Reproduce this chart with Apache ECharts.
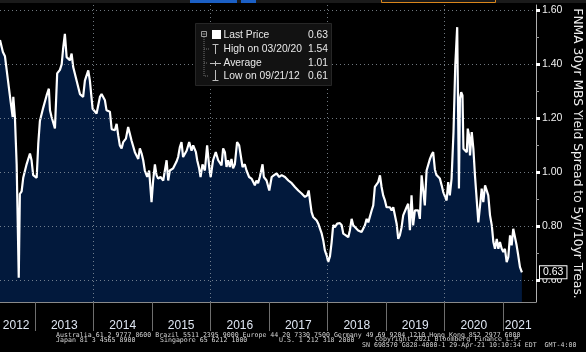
<!DOCTYPE html>
<html><head><meta charset="utf-8">
<script src="https://cdn.jsdelivr.net/npm/echarts@6/dist/echarts.min.js"></script>
<style>html,body{margin:0;padding:0;background:#000;}#c{width:586px;height:352px;}</style>
</head><body><div id="c"></div>
<script>
const dates = [
'2012-05-27','2012-06-14','2012-06-27','2012-07-16','2012-08-03','2012-08-14','2012-08-18','2012-08-28','2012-09-08','2012-09-21',
'2012-09-28','2012-10-09','2012-10-19','2012-11-09','2012-11-30','2012-12-10','2012-12-20','2013-01-11','2013-01-21','2013-01-31',
'2013-02-21','2013-03-14','2013-03-28','2013-04-04','2013-04-14','2013-05-05','2013-05-19','2013-06-05','2013-06-16','2013-06-26',
'2013-07-06','2013-07-17','2013-08-06','2013-08-17','2013-08-27','2013-09-17','2013-10-08','2013-10-28','2013-11-08','2013-11-29',
'2013-12-09','2013-12-26','2014-01-20','2014-02-10','2014-02-20','2014-03-13','2014-03-23','2014-04-13','2014-04-24','2014-05-04',
'2014-05-14','2014-05-25','2014-06-04','2014-06-14','2014-06-25','2014-07-05','2014-07-22','2014-08-05','2014-08-26','2014-09-16',
'2014-10-07','2014-10-17','2014-10-28','2014-11-07','2014-11-17','2014-12-02','2014-12-14','2014-12-29','2015-01-08','2015-01-19',
'2015-01-29','2015-02-08','2015-02-23','2015-03-12','2015-04-02','2015-04-12','2015-04-22','2015-05-13','2015-06-03','2015-06-13',
'2015-06-24','2015-07-04','2015-07-14','2015-08-05','2015-08-21','2015-09-05','2015-09-15','2015-10-02','2015-10-10','2015-10-22',
'2015-10-31','2015-11-12','2015-11-27','2015-12-11','2015-12-24','2016-01-02','2016-01-17','2016-02-03','2016-02-18','2016-02-28',
'2016-03-10','2016-03-20','2016-03-31','2016-04-10','2016-04-20','2016-05-01','2016-05-11','2016-05-21','2016-06-01','2016-06-15',
'2016-06-28','2016-07-06','2016-07-19','2016-08-02','2016-08-13','2016-08-29','2016-09-13','2016-09-23','2016-10-04','2016-10-14',
'2016-10-24','2016-11-04','2016-11-21','2016-11-29','2016-12-16','2017-01-02','2017-01-17','2017-02-01','2017-02-17','2017-03-05',
'2017-03-20','2017-04-10','2017-04-20','2017-05-01','2017-05-22','2017-06-11','2017-07-02','2017-07-23','2017-08-13','2017-08-27',
'2017-09-05','2017-09-13','2017-09-23','2017-10-03','2017-10-25','2017-11-04','2017-11-14','2017-11-25','2017-12-05','2017-12-15',
'2017-12-26','2018-01-05','2018-01-16','2018-01-26','2018-02-05','2018-02-16','2018-03-02','2018-03-19','2018-03-30','2018-04-09',
'2018-04-25','2018-05-10','2018-05-20','2018-05-31','2018-06-10','2018-06-21','2018-07-11','2018-08-01','2018-08-22','2018-09-02',
'2018-09-12','2018-09-22','2018-10-03','2018-10-13','2018-10-23','2018-11-03','2018-11-13','2018-11-24','2018-12-04','2018-12-14',
'2018-12-25','2019-01-04','2019-01-14','2019-01-25','2019-02-05','2019-02-15','2019-02-25','2019-03-08','2019-03-18','2019-03-28',
'2019-04-08','2019-04-18','2019-04-29','2019-05-09','2019-05-19','2019-05-30','2019-06-09','2019-06-19','2019-06-30','2019-07-11',
'2019-07-21','2019-07-31','2019-08-11','2019-08-21','2019-08-31','2019-09-11','2019-09-21','2019-10-02','2019-10-12','2019-10-22',
'2019-11-02','2019-11-12','2019-11-22','2019-12-03','2019-12-14','2019-12-24','2020-01-03','2020-01-14','2020-01-24','2020-02-03',
'2020-02-14','2020-02-26','2020-03-08','2020-03-20','2020-03-25','2020-03-31','2020-04-06','2020-04-14','2020-04-22','2020-04-28',
'2020-05-08','2020-05-19','2020-05-25','2020-06-02','2020-06-08','2020-06-19','2020-06-29','2020-07-09','2020-07-20','2020-07-30',
'2020-08-10','2020-08-20','2020-08-30','2020-09-10','2020-09-20','2020-09-30','2020-10-11','2020-10-22','2020-11-01','2020-11-11',
'2020-11-22','2020-12-02','2020-12-12','2020-12-23','2021-01-02','2021-01-12','2021-01-23','2021-02-02','2021-02-13','2021-02-23',
'2021-03-05','2021-03-16','2021-03-26','2021-04-05','2021-04-16','2021-04-28'
];
const values = [
1.49,1.446,1.43,1.34,1.255,1.205,1.28,1.205,1.03,0.61,
0.92,0.93,0.98,1.03,1.07,1.045,0.99,0.98,1.107,1.19,
1.24,1.285,1.31,1.23,1.205,1.163,1.367,1.38,1.40,1.464,
1.513,1.427,1.415,1.44,1.39,1.34,1.29,1.28,1.34,1.378,
1.34,1.236,1.218,1.28,1.29,1.267,1.23,1.225,1.16,1.165,
1.156,1.18,1.137,1.10,1.089,1.112,1.125,1.168,1.118,1.075,
1.05,1.089,1.07,1.045,1.007,0.983,1.007,0.89,0.97,1.03,
0.99,0.977,0.983,0.97,1.045,0.97,1.007,1.015,1.04,1.057,
1.094,1.112,1.057,1.08,1.112,1.08,1.10,1.075,1.045,1.015,
0.983,1.03,1.007,1.10,1.02,0.983,1.045,1.075,1.045,1.045,
1.026,1.089,1.075,1.02,1.045,1.02,1.05,1.015,1.03,1.112,
1.10,1.094,1.02,1.03,1.007,0.983,0.977,0.97,0.952,0.97,
0.96,0.983,1.03,0.983,0.97,0.933,0.983,0.99,0.996,0.983,
0.99,0.983,0.99,0.97,0.96,0.946,0.933,0.922,0.909,0.915,
0.933,0.896,0.853,0.835,0.822,0.81,0.793,0.774,0.748,0.711,
0.693,0.668,0.69,0.74,0.805,0.797,0.81,0.812,0.804,0.773,
0.767,0.76,0.785,0.828,0.804,0.797,0.785,0.779,0.804,0.828,
0.815,0.81,0.859,0.878,0.946,0.952,0.964,0.989,0.946,0.915,
0.896,0.871,0.865,0.871,0.859,0.871,0.874,0.81,0.754,0.767,
0.797,0.841,0.841,0.871,0.884,0.786,0.915,0.804,0.859,0.865,
0.859,0.828,0.989,0.983,0.878,1.007,1.013,1.05,1.065,1.075,
1.01,0.99,0.985,0.977,0.952,0.927,0.921,0.896,0.964,0.915,
0.977,1.149,1.396,1.538,1.273,0.94,1.273,1.297,1.285,1.088,
1.088,1.075,1.162,1.137,1.063,1.149,1.088,0.989,0.983,0.815,
0.878,0.94,0.89,0.952,0.952,0.915,0.841,0.804,0.742,0.717,
0.754,0.717,0.742,0.717,0.705,0.717,0.668,0.686,0.767,0.73,
0.791,0.797,0.73,0.693,0.649,0.63
];
const yTickValues = [0.6, 0.8, 1.0, 1.2, 1.4, 1.6];
const yMinorTickValues = [0.7, 0.9, 1.1, 1.3, 1.5];
const yearLabels = ['2012','2013','2014','2015','2016','2017','2018','2019','2020','2021'];
const yearLabelDates = ['2012-09-05','2013-07-02','2014-07-02','2015-07-02','2016-07-02','2017-07-02','2018-07-02','2019-07-02','2020-07-02','2021-04-05'];
const yearStarts = ['2013-01-01','2014-01-01','2015-01-01','2016-01-01','2017-01-01','2018-01-01','2019-01-01','2020-01-01','2021-01-01'];
const gridYears = ['2014-01-01','2016-01-01','2018-01-01','2020-01-01'];
const xRange = ['2012-05-27', '2021-07-25'];
const yRange = [0.52, 1.62];
const legendNames = ['Last Price', 'High on 03/20/20', 'Average', 'Low on 09/21/12'];
const legendValues = ['0.63', '1.54', '1.01', '0.61'];
const axisTitle = 'FNMA 30yr MBS Yield Spread to 5yr/10yr Treas.';
const footerTexts = [
  'Australia 61 2 9777 8600 Brazil 5511 2395 9000 Europe 44 20 7330 7500 Germany 49 69 9204 1210 Hong Kong 852 2977 6000',
  'Japan 81 3 4565 8900',
  'Singapore 65 6212 1000',
  'U.S. 1 212 318 2000',
  'Copyright 2021 Bloomberg Finance L.P.',
  'SN 698570 G828-4000-1 29-Apr-21 10:10:34 EDT  GMT-4:00'
];

const ts = d => new Date(d + 'T00:00:00Z').getTime();
const seriesData = dates.map((d, i) => [ts(d), values[i]]);
const lastValue = values[values.length - 1];
const labelTs = yearLabelDates.map(ts);
const sansFont = "'Liberation Sans',Arial,sans-serif";
const gridColor = 'rgba(150,160,170,0.75)';

const chart = echarts.init(document.getElementById('c'));

const footerPos = [[56,335],[56,340],[160,340],[279,340],[375,339],[362,345]];
const legendRowsY = [35, 49, 63, 76];

const graphic = [
  {type:'rect', shape:{x:0,y:0,width:586,height:3}, style:{fill:'#1a1a1a'}, z:100},
  {type:'rect', shape:{x:190,y:0,width:47,height:3}, style:{fill:'#1b5fc4'}, z:101},
  {type:'rect', shape:{x:241,y:0,width:15,height:3}, style:{fill:'#1b5fc4'}, z:101},
  {type:'rect', shape:{x:381.5,y:-1,width:114,height:3.5}, style:{fill:'none', stroke:'#d9861c', lineWidth:1}, z:101},
  {type:'rect', shape:{x:195.5,y:23.5,width:136,height:62}, style:{fill:'#121212', stroke:'#262626', lineWidth:1}, z:50},
  {type:'rect', shape:{x:201.5,y:31.5,width:5,height:5}, style:{fill:'none', stroke:'#9a9a9a', lineWidth:1}, z:51},
  {type:'line', shape:{x1:202.5,y1:34,x2:205.5,y2:34}, style:{stroke:'#9a9a9a', lineWidth:1}, z:51},
  {type:'polyline', shape:{points:[[204,37],[204,76],[209,76]]}, style:{stroke:'#707070', lineWidth:1, lineDash:[1,1], fill:'none'}, z:51},
  {type:'line', shape:{x1:204,y1:49,x2:210,y2:49}, style:{stroke:'#707070', lineWidth:1, lineDash:[1,1]}, z:51},
  {type:'line', shape:{x1:204,y1:63,x2:208,y2:63}, style:{stroke:'#707070', lineWidth:1, lineDash:[1,1]}, z:51},
  {type:'rect', shape:{x:212,y:30,width:9,height:9}, style:{fill:'#ffffff'}, z:51},
  {type:'line', shape:{x1:215.5,y1:44,x2:215.5,y2:54}, style:{stroke:'#bdbdbd', lineWidth:1}, z:51},
  {type:'line', shape:{x1:212.5,y1:44.5,x2:218.5,y2:44.5}, style:{stroke:'#bdbdbd', lineWidth:1}, z:51},
  {type:'line', shape:{x1:210,y1:63.5,x2:221,y2:63.5}, style:{stroke:'#bdbdbd', lineWidth:1}, z:51},
  {type:'line', shape:{x1:215.5,y1:61,x2:215.5,y2:66}, style:{stroke:'#bdbdbd', lineWidth:1}, z:51},
  {type:'line', shape:{x1:215.5,y1:70,x2:215.5,y2:80}, style:{stroke:'#bdbdbd', lineWidth:1}, z:51},
  {type:'line', shape:{x1:212.5,y1:80.5,x2:218.5,y2:80.5}, style:{stroke:'#bdbdbd', lineWidth:1}, z:51}
];
legendNames.forEach((n, i) => {
  graphic.push({type:'text', x:223.5, y:legendRowsY[i], style:{text:n, fill:'#e8e8e8', font:"10.3px " + sansFont, textVerticalAlign:'middle', textAlign:'left'}, z:52});
  graphic.push({type:'text', x:328, y:legendRowsY[i], style:{text:legendValues[i], fill:'#e8e8e8', font:"10.3px " + sansFont, textVerticalAlign:'middle', textAlign:'right'}, z:52});
});
footerTexts.forEach((t, i) => {
  graphic.push({type:'text', x:footerPos[i][0], y:footerPos[i][1], style:{text:t, fill:'#d4d4d4', font:"6.6px 'DejaVu Sans Mono',monospace", textVerticalAlign:'middle', textAlign:'left'}, z:60});
});

const gridLines = yTickValues.map(v => ({yAxis: v}))
  .concat(gridYears.map(d => ({xAxis: ts(d)})));

chart.setOption({
  backgroundColor: '#000000',
  animation: false,
  grid: {left: 0, right: 50, top: 5, bottom: 50, containLabel: false, outerBoundsMode: 'none'},
  xAxis: {
    type: 'value',
    min: ts(xRange[0]), max: ts(xRange[1]),
    axisLine: {show: true, lineStyle: {color: '#8a8a8a', width: 1}},
    axisTick: {show: true, customValues: yearStarts.map(ts), length: 29, lineStyle: {color: '#6e6e6e', width: 1}},
    axisLabel: {
      show: true, customValues: labelTs, margin: 18,
      color: '#dfe6f2', fontSize: 12, fontFamily: sansFont,
      formatter: function (v) {
        let best = 0, bd = Infinity;
        labelTs.forEach((t, i) => { const d = Math.abs(t - v); if (d < bd) { bd = d; best = i; } });
        return yearLabels[best];
      }
    },
    splitLine: {show: false}
  },
  yAxis: [{
    type: 'value', position: 'right',
    min: yRange[0], max: yRange[1],
    name: axisTitle, nameLocation: 'middle', nameRotate: -90, nameGap: 35, nameMoveOverlap: false,
    nameTextStyle: {color: '#eeeeee', fontSize: 12.3, fontFamily: "'DejaVu Sans',sans-serif"},
    axisLine: {show: true, lineStyle: {color: '#b0b0b0', width: 1}},
    axisTick: {show: true, customValues: yTickValues, length: 4, lineStyle: {color: '#ffffff', width: 3}},
    axisLabel: {show: true, customValues: yTickValues, margin: 6, color: '#f0f0f0', fontSize: 10.5, fontFamily: sansFont,
      formatter: v => Number(v).toFixed(2)},
    splitLine: {show: false}
  }, {
    type: 'value', position: 'right',
    min: yRange[0], max: yRange[1],
    axisLine: {show: false},
    axisTick: {show: true, customValues: yMinorTickValues, length: 3, lineStyle: {color: '#9a9a9a', width: 1}},
    axisLabel: {show: false},
    splitLine: {show: false}
  }],
  graphic: graphic,
  series: [
    {
      type: 'line', name: 'area', data: seriesData, z: 1, silent: true,
      showSymbol: false, symbol: 'none',
      lineStyle: {width: 0, opacity: 0},
      areaStyle: {color: '#02193c', opacity: 1, origin: 'start'}
    },
    {
      type: 'line', name: 'grid', data: seriesData, z: 2, silent: true,
      showSymbol: false, symbol: 'none',
      lineStyle: {width: 0, opacity: 0},
      markLine: {
        silent: true, symbol: ['none', 'none'], animation: false,
        label: {show: false},
        lineStyle: {color: gridColor, type: [1, 3], width: 1},
        data: gridLines
      }
    },
    {
      type: 'line', name: 'Last Price', data: seriesData, z: 3,
      showSymbol: false, symbol: 'none',
      lineStyle: {color: '#ffffff', width: 2.2},
      markLine: {
        silent: true, symbol: ['none', 'none'], animation: false,
        lineStyle: {color: 'rgba(0,0,0,0)', width: 0, opacity: 1},
        label: {
          show: true, position: 'end', distance: 4,
          formatter: lastValue.toFixed(2),
          color: '#ffffff', fontSize: 10.5, fontFamily: sansFont,
          backgroundColor: '#000000', borderColor: '#ffffff', borderWidth: 1,
          padding: [1, 3, 0, 3]
        },
        data: [{yAxis: lastValue}]
      }
    }
  ]
});
</script>
</body></html>
